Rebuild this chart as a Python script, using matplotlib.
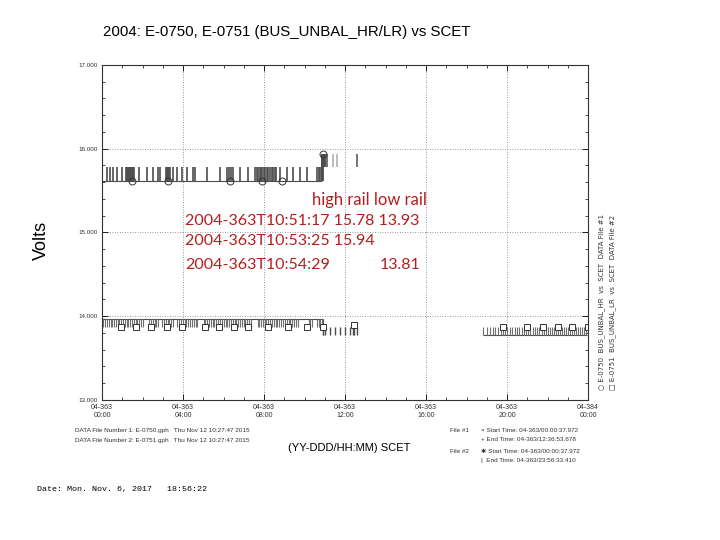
import matplotlib
matplotlib.use('Agg')
import matplotlib.pyplot as plt
from matplotlib.ticker import MultipleLocator

# x values are hours of day 04-363 (SCET)
# E-0750 high rail, file #1
hr_a_start, hr_a_end = 0.02, 10.855
hr_a_base, hr_a_top = 15.62, 15.78
hr_a_spikes = [0.23, 0.40, 0.54, 0.74, 0.99, 1.19, 1.24, 1.28, 1.33, 1.38, 1.43, 1.48, 1.53, 1.58,
               1.83, 2.22, 2.52, 2.77, 2.86, 3.16, 3.21, 3.26, 3.31, 3.36, 3.51, 3.70, 3.95,
               4.20, 4.49, 4.59, 5.19, 5.83, 6.17, 6.27, 6.37, 6.47, 6.81, 7.21, 7.56, 7.63,
               7.70, 7.78, 7.85, 7.92, 8.00, 8.07, 8.15, 8.22, 8.30, 8.37, 8.44, 8.52, 8.59,
               8.79, 9.14, 9.43, 9.78, 10.12, 10.62, 10.70, 10.77, 10.84]
hr_jump = [10.855, 10.88, 10.91]
hr_b_base, hr_b_top = 15.78, 15.94
hr_b_spikes = [10.93, 10.96, 10.99, 11.02, 11.10, 11.40, 11.60, 12.58]
hr_b_light = [11.40, 11.60]
hr_marks_t = [1.48, 3.26, 6.32, 7.90, 8.89, 10.91]
hr_marks_v = [15.62, 15.62, 15.62, 15.62, 15.62, 15.94]

# E-0751 low rail, file #2
lr_a_start, lr_a_end = 0.02, 10.91
lr_a_base, lr_a_low = 13.97, 13.87
lr_a_spikes = [0.05, 0.15, 0.25, 0.33, 0.42, 0.50, 0.60, 0.68, 0.78, 0.86, 0.95, 1.05, 1.13,
               1.22, 1.30, 1.40, 1.48, 1.57, 1.66, 1.75, 1.84, 1.93, 2.02, 2.33, 2.42, 2.50,
               2.60, 2.68, 2.78, 2.98, 3.06, 3.15, 3.24, 3.33, 3.42, 3.52, 3.72, 3.80, 3.90,
               3.98, 4.08, 4.16, 4.25, 4.35, 4.44, 4.52, 4.62, 4.70, 5.02, 5.10, 5.20, 5.28,
               5.38, 5.46, 5.55, 5.64, 5.74, 5.82, 5.92, 6.00, 6.10, 6.18, 6.28, 6.36, 6.45,
               6.55, 6.63, 6.72, 6.82, 6.90, 7.00, 7.08, 7.18, 7.26, 7.36, 7.68, 7.76, 7.86,
               7.94, 8.04, 8.12, 8.22, 8.30, 8.40, 8.48, 8.58, 8.66, 8.76, 8.85, 8.94, 9.04,
               9.12, 9.22, 9.30, 9.40, 9.50, 9.60, 9.70, 10.20, 10.28, 10.36, 10.62, 10.70,
               10.78, 10.86]
lr_b_low, lr_b_high = 13.78, 13.87
lr_b_spikes = [10.92, 11.00, 11.26, 11.50, 11.75, 12.00, 12.25, 12.40, 12.46, 12.60]
lr_c_start, lr_c_end = 18.80, 23.95
lr_c_spikes = [18.82, 19.00, 19.15, 19.30, 19.42, 19.55, 19.68, 19.80, 19.90, 20.02, 20.15,
               20.25, 20.38, 20.50, 20.60, 20.72, 20.85, 20.95, 21.05, 21.15, 21.28, 21.40,
               21.50, 21.60, 21.72, 21.82, 21.92, 22.02, 22.12, 22.22, 22.32, 22.42, 22.52,
               22.62, 22.72, 22.82, 22.92, 23.02, 23.12, 23.22, 23.32, 23.42, 23.52, 23.62,
               23.72, 23.82, 23.92]
lr_marks_t = [0.94, 1.68, 2.42, 3.21, 3.95, 5.09, 5.78, 6.52, 7.21, 8.20, 9.19, 10.12, 10.91,
              12.44, 19.80, 21.00, 21.80, 22.50, 23.20, 23.98]
lr_marks_v = [13.875] * 13 + [13.89] + [13.875] * 6

x_ticks = [0, 4, 8, 12, 16, 20, 24]
x_labels = ['04-363\n00:00', '04-363\n04:00', '04-363\n08:00', '04-363\n12:00',
            '04-363\n16:00', '04-363\n20:00', '04-384\n00:00']
y_ticks = [13, 14, 15, 16, 17]
y_labels = ['13.000', '14.000', '15.000', '16.000', '17.000']

fig = plt.figure(figsize=(7.2, 5.4), dpi=100)
ax = fig.add_axes([0.1417, 0.2593, 0.675, 0.6204])

c = '#4d4d4d'
# high rail
ax.hlines(hr_a_base, hr_a_start, hr_a_end, color=c, lw=0.8)
ax.vlines(hr_a_spikes, hr_a_base, hr_a_top, color=c, lw=1.2)
ax.vlines(hr_jump, hr_a_base, hr_b_top, color=c, lw=1.3)
dark_b = [t for t in hr_b_spikes if t not in hr_b_light]
ax.vlines(dark_b, hr_b_base, hr_b_top, color=c, lw=1.1)
ax.vlines(hr_b_light, hr_b_base, hr_b_top, color='#aaaaaa', lw=1.1)
ax.plot(hr_marks_t, hr_marks_v, ls='none', marker='o', ms=5, mfc='none', mec='#333333', mew=0.7)

# low rail
ax.hlines(lr_a_base, lr_a_start, lr_a_end, color=c, lw=0.8)
ax.vlines(lr_a_spikes, lr_a_low, lr_a_base, color='#707070', lw=0.8)
ax.vlines([lr_a_end], lr_b_low, lr_a_base, color=c, lw=0.8)
ax.vlines(lr_b_spikes, lr_b_low, lr_b_high, color=c, lw=1.0)
ax.hlines(lr_b_low, lr_c_start, lr_c_end, color=c, lw=0.8)
ax.vlines(lr_c_spikes, lr_b_low, lr_b_high, color='#707070', lw=0.8)
ax.plot(lr_marks_t, lr_marks_v, ls='none', marker='s', ms=5, mfc='white', mec='#333333', mew=0.7)

ax.set_xlim(0, 24)
ax.set_ylim(13, 17)
ax.set_xticks(x_ticks)
ax.set_xticklabels(x_labels, fontsize=5, family='Liberation Sans', color='#333333')
ax.set_yticks(y_ticks)
ax.set_yticklabels(y_labels, fontsize=4.5, family='Liberation Sans', color='#333333')
ax.xaxis.set_minor_locator(MultipleLocator(1))
ax.yaxis.set_minor_locator(MultipleLocator(0.2))
ax.tick_params(which='major', direction='in', length=4, width=0.6, top=True, right=True, pad=3)
ax.tick_params(which='minor', direction='in', length=2.5, width=0.5, top=True, right=True)
ax.grid(True, which='major', ls=(0, (1, 2)), lw=0.6, color='#777777')
for s in ax.spines.values():
    s.set_linewidth(0.8)
    s.set_color('#333333')

fig.text(0.143, 0.94, '2004: E-0750, E-0751 (BUS_UNBAL_HR/LR) vs SCET', fontsize=10.8,
         family='Liberation Sans', va='center')
fig.text(0.058, 0.555, 'Volts', rotation=90, fontsize=13, family='Liberation Sans',
         va='center', ha='center')

# right-hand legend (rotated)
fig.text(0.836, 0.278, '\u25cb E-0750  BUS_UNBAL_HR  vs  SCET  DATA File #1', rotation=90,
         fontsize=5, family='DejaVu Sans', color='#333333', va='bottom', ha='center')
fig.text(0.851, 0.278, '\u25a1 E-0751  BUS_UNBAL_LR  vs  SCET  DATA File #2', rotation=90,
         fontsize=5, family='DejaVu Sans', color='#333333', va='bottom', ha='center')

# footer texts
ft = dict(fontsize=4.6, family=['Liberation Sans', 'DejaVu Sans'], color='#333333', va='center')
fig.text(0.104, 0.202, 'DATA File Number 1: E-0750.gph   Thu Nov 12 10:27:47 2015', **ft)
fig.text(0.104, 0.185, 'DATA File Number 2: E-0751.gph   Thu Nov 12 10:27:47 2015', **ft)
fig.text(0.40, 0.170, '(YY-DDD/HH:MM) SCET', fontsize=8, family='Liberation Sans', va='center')
fig.text(0.625, 0.202, 'File #1', **ft)
fig.text(0.668, 0.202, '\u00d7 Start Time: 04-363/00:00:37.972', **ft)
fig.text(0.668, 0.187, '+ End Time: 04-363/12:36:53.678', **ft)
fig.text(0.625, 0.164, 'File #2', **ft)
fig.text(0.668, 0.164, '\u2731 Start Time: 04-363/00:00:37.972', **ft)
fig.text(0.668, 0.148, '|  End Time: 04-363/23:56:33.410', **ft)
fig.text(0.052, 0.093, 'Date: Mon. Nov. 6, 2017   18:56:22', fontsize=6,
         family='Liberation Mono', va='center')

# annotation overlay
red = '#b41e1e'
af = dict(fontsize=11.5, family='Lato', color=red, va='center')
fig.text(0.434, 0.630, 'high rail low rail', fontsize=12, family='Lato', color=red, va='center')
fig.text(0.257, 0.591, '2004-363T10:51:17 15.78 13.93', **af)
fig.text(0.257, 0.554, '2004-363T10:53:25 15.94', **af)
fig.text(0.257, 0.509, '2004-363T10:54:29', **af)
fig.text(0.528, 0.509, '13.81', **af)

fig.savefig('out.png', dpi=100)
